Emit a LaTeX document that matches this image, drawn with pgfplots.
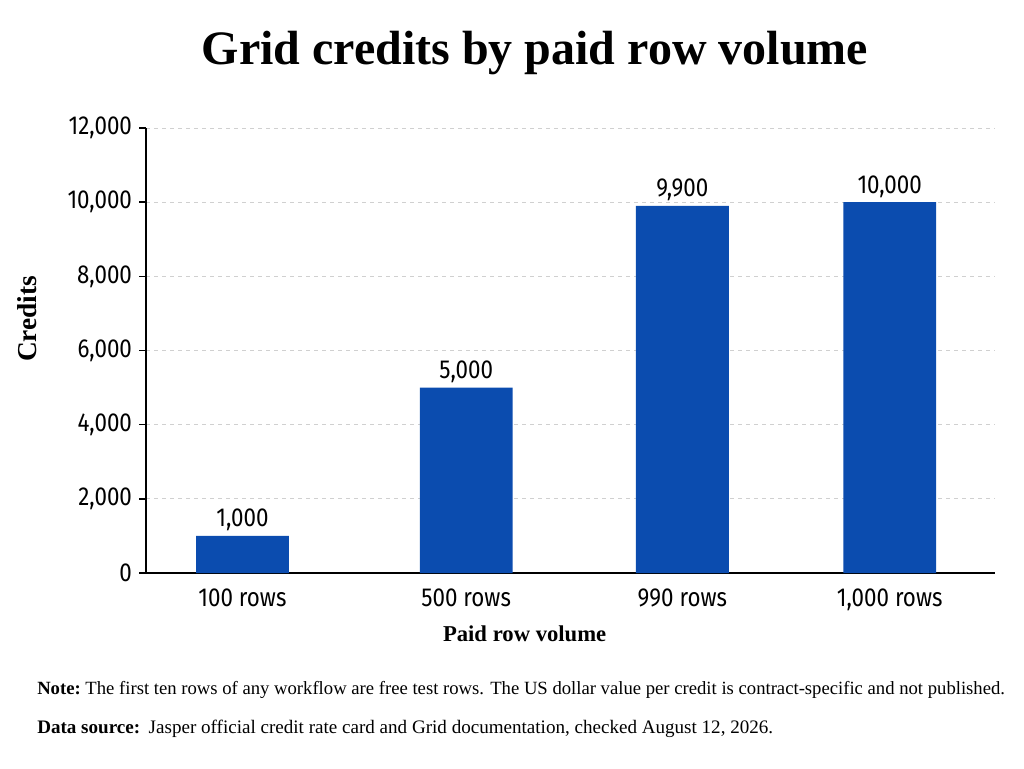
\documentclass[border=0pt]{standalone}
\usepackage{fontspec}
\usepackage{pgfplots}
\pgfplotsset{compat=1.18}
\setmainfont{Liberation Serif}
\newfontfamily\cond[FakeStretch=0.86]{Fira Sans}
\definecolor{barblue}{HTML}{0B4CAF}
\definecolor{gridgray}{HTML}{D0D0D0}

\begin{document}
\begin{tikzpicture}
% page frame: 1024x768 px at 0.75pt per px
\path[use as bounding box] (0,0) rectangle (768pt,576pt);

\begin{axis}[
    at={(109.5pt,146.25pt)}, anchor=south west,
    scale only axis,
    width=636.75pt, height=333.75pt,
    xmin=-0.447, xmax=3.488,
    ymin=0, ymax=12000,
    xtick=data,
    xticklabels={100 rows, 500 rows, 990 rows, {1,000 rows}},
    ytick={0,2000,...,12000},
    axis x line*=bottom, axis y line*=left,
    axis line style={black, line width=1.2pt, -},
    x tick style={draw=none},
    y tick style={black, line width=1.2pt},
    tick align=outside, major tick length=5pt,
    ymajorgrids,
    grid style={gridgray, dashed, line width=0.6pt},
    scaled y ticks=false,
    /pgf/number format/.cd, 1000 sep={,}, assume math mode=true,
    /pgfplots/.cd,
    ticklabel style={font=\cond\fontsize{19.5}{23}\selectfont},
    yticklabel style={xshift=-2pt},
    xticklabel style={yshift=-3pt},
    xlabel={Paid row volume},
    ylabel={Credits},
    xlabel style={font=\bfseries\fontsize{17}{20}\selectfont,
        at={(axis description cs:0.446,-0.137)}, anchor=center},
    ylabel style={font=\bfseries\fontsize{20.5}{24}\selectfont,
        at={(axis description cs:-0.1405,0.571)}, anchor=center},
]
\addplot[ybar, bar width=0.43, fill=barblue, draw=none,
    nodes near coords,
    nodes near coords style={font=\cond\fontsize{19.5}{23}\selectfont, black, yshift=0pt},
] coordinates {
    (0,1000)
    (1.037,5000)
    (2.039,9900)
    (3,10000)
};
\end{axis}

\node[font=\bfseries\fontsize{36}{42}\selectfont] at (401.25pt,536.5pt) {Grid credits by paid row volume};
\node[font=\fontsize{14}{17}\selectfont, anchor=west, inner sep=0pt] at (27.75pt,58.5pt)
    {\textbf{Note:}\ The first ten rows of any workflow are free test rows. The US dollar value per credit is contract-specific and not published.};
\node[font=\fontsize{14.3}{17}\selectfont, anchor=west, inner sep=0pt] at (27.75pt,29.25pt)
    {\textbf{Data source:}\hspace{0.45em}Jasper official credit rate card and Grid documentation, checked August 12, 2026.};
\end{tikzpicture}
\end{document}
